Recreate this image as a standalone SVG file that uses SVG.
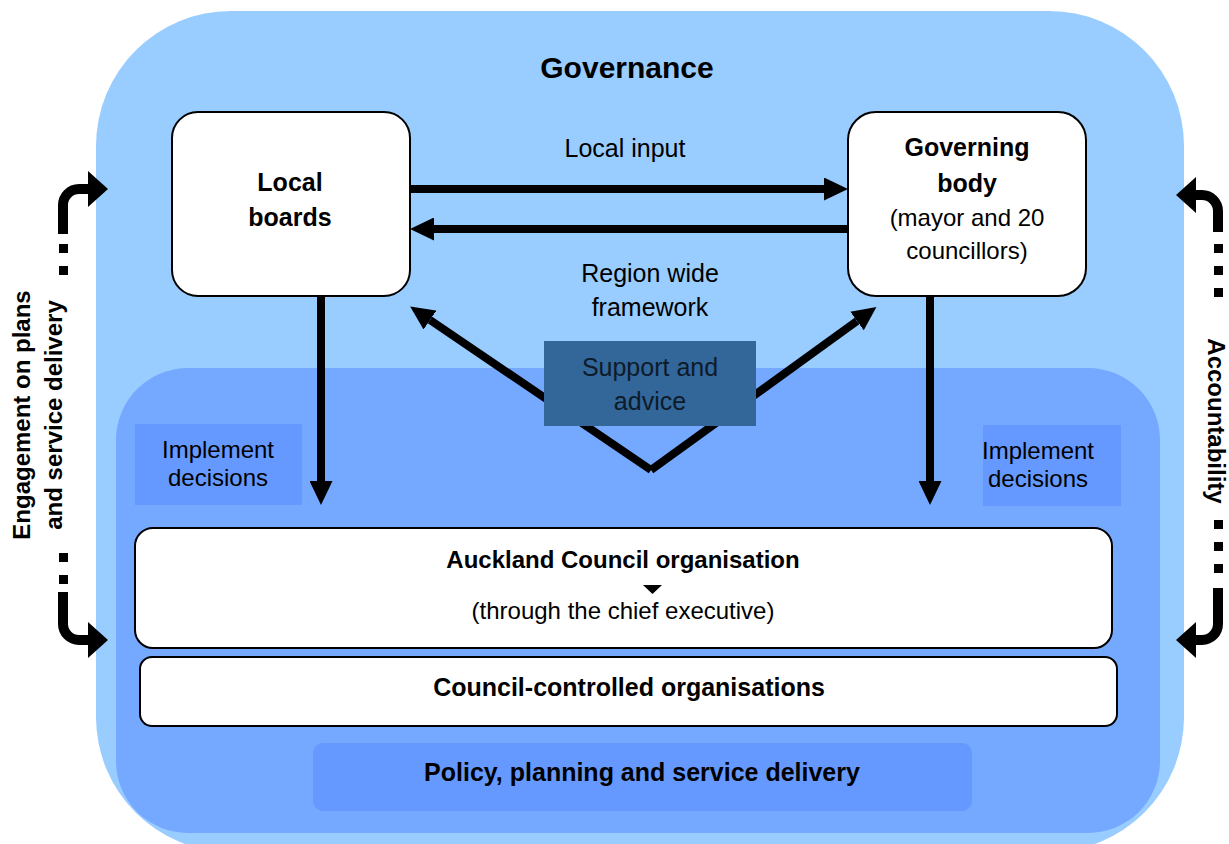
<svg xmlns="http://www.w3.org/2000/svg" width="1229" height="844" viewBox="0 0 1229 844">
  <defs>
    <style>
      text { font-family: "Liberation Sans", Arial, sans-serif; fill: #000; }
      .b { font-weight: bold; }
      .c { text-anchor: middle; }
      .box { fill: #ffffff; stroke: #000; stroke-width: 2; }
      .panel { fill: #6699ff; }
      .shaft { stroke: #000; stroke-width: 8; fill: none; }
      .side { stroke: #000; stroke-width: 10; fill: none; }
      .head { fill: #000; }
    </style>
    <marker id="arrow" viewBox="0 0 24 23" refX="0" refY="11.5" markerWidth="24" markerHeight="23" markerUnits="userSpaceOnUse" orient="auto">
      <path d="M0,0 L24,11.5 L0,23 Z" fill="#000"/>
    </marker>
  </defs>

  <!-- background areas -->
  <rect x="96" y="11" width="1088" height="841" rx="135" ry="135" fill="#99ccff"/>
  <rect x="116" y="368" width="1044" height="465" rx="72" ry="72" fill="#75a8ff"/>
  <text class="b c" x="627" y="78" font-size="30">Governance</text>

  <!-- connectors -->
  <g id="connectors">
    <line class="shaft" x1="410" y1="189" x2="824" y2="189" marker-end="url(#arrow)"/>
    <line class="shaft" x1="848" y1="229" x2="434" y2="229" marker-end="url(#arrow)"/>
    <line class="shaft" x1="321" y1="296" x2="321" y2="481" marker-end="url(#arrow)"/>
    <line class="shaft" x1="930" y1="296" x2="930" y2="481" marker-end="url(#arrow)"/>
    <line class="shaft" x1="651" y1="470" x2="430" y2="320" marker-end="url(#arrow)"/>
    <line class="shaft" x1="651" y1="470" x2="857" y2="321" marker-end="url(#arrow)"/>

    <!-- engagement (left) -->
    <path class="side" d="M63,234 V205 A16,16 0 0 1 79,189 H90"/>
    <path class="head" d="M88,171 L108,189 L88,207 Z"/>
    <rect class="head" x="59" y="244" width="9" height="9"/>
    <rect class="head" x="59" y="266" width="9" height="9"/>
    <rect class="head" x="59" y="553" width="9" height="9"/>
    <rect class="head" x="59" y="575" width="9" height="9"/>
    <path class="side" d="M63,592 V624 A16,16 0 0 0 79,640 H90"/>
    <path class="head" d="M88,622 L108,640 L88,658 Z"/>

    <!-- accountability (right) -->
    <path class="side" d="M1218,232 V211 A16,16 0 0 0 1202,195 H1194"/>
    <path class="head" d="M1196,177 L1176,195 L1196,213 Z"/>
    <rect class="head" x="1214" y="244" width="9" height="9"/>
    <rect class="head" x="1214" y="266" width="9" height="9"/>
    <rect class="head" x="1214" y="288" width="9" height="9"/>
    <rect class="head" x="1214" y="520" width="9" height="9"/>
    <rect class="head" x="1214" y="542" width="9" height="9"/>
    <rect class="head" x="1214" y="564" width="9" height="9"/>
    <path class="side" d="M1218,588 V624 A16,16 0 0 1 1202,640 H1194"/>
    <path class="head" d="M1196,622 L1176,640 L1196,658 Z"/>
  </g>

  <!-- connector labels -->
  <text class="c" x="625" y="157" font-size="25">Local input</text>
  <text class="c" x="650" y="282" font-size="25">Region wide</text>
  <text class="c" x="650" y="316" font-size="25">framework</text>
  <text class="b c" transform="translate(30,415) rotate(-90)" font-size="24">Engagement on plans</text>
  <text class="b c" transform="translate(62,415) rotate(-90)" font-size="24">and service delivery</text>
  <text class="b c" transform="translate(1208,421) rotate(90)" font-size="24">Accountability</text>

  <g id="local-boards">
    <rect class="box" x="172" y="112" width="238" height="184" rx="26" ry="26"/>
    <text class="b c" x="290" y="191" font-size="25">Local</text>
    <text class="b c" x="290" y="226" font-size="25">boards</text>
  </g>

  <g id="governing-body">
    <rect class="box" x="848" y="112" width="238" height="184" rx="28" ry="28"/>
    <text class="b c" x="967" y="156" font-size="25">Governing</text>
    <text class="b c" x="967" y="192" font-size="25">body</text>
    <text class="c" x="967" y="226" font-size="24">(mayor and 20</text>
    <text class="c" x="967" y="259" font-size="24">councillors)</text>
  </g>

  <g id="support-advice">
    <rect x="544" y="341" width="212" height="85" fill="#336699"/>
    <text class="c" x="650" y="376" font-size="25" style="fill:#0d1b2a">Support and</text>
    <text class="c" x="650" y="410" font-size="25" style="fill:#0d1b2a">advice</text>
  </g>

  <g id="implement-left">
    <rect class="panel" x="135" y="424" width="167" height="81"/>
    <text class="c" x="218" y="458" font-size="24">Implement</text>
    <text class="c" x="218" y="486" font-size="24">decisions</text>
  </g>

  <g id="implement-right">
    <rect class="panel" x="983" y="425" width="138" height="81"/>
    <text class="c" x="1038" y="459" font-size="24">Implement</text>
    <text class="c" x="1038" y="487" font-size="24">decisions</text>
  </g>

  <g id="auckland-council">
    <rect class="box" x="135" y="528" width="977" height="120" rx="18" ry="18"/>
    <text class="b c" x="623" y="568" font-size="24">Auckland Council organisation</text>
    <path class="head" d="M643,585 L662,585 L652.5,594 Z"/>
    <text class="c" x="623" y="619" font-size="24">(through the chief executive)</text>
  </g>

  <g id="cco">
    <rect class="box" x="140" y="657" width="977" height="69" rx="12" ry="12"/>
    <text class="b c" x="629" y="696" font-size="25">Council-controlled organisations</text>
  </g>

  <g id="policy">
    <rect class="panel" x="313" y="743" width="659" height="68" rx="10" ry="10"/>
    <text class="b c" x="642" y="781" font-size="25">Policy, planning and service delivery</text>
  </g>
</svg>
